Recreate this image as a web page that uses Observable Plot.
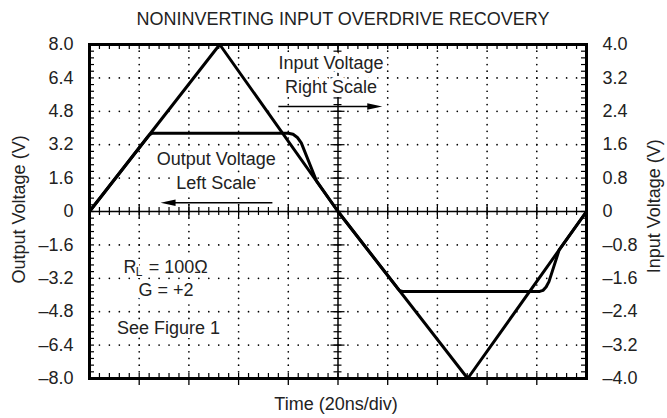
<!DOCTYPE html>
<html>
<head>
<meta charset="utf-8">
<script src="https://cdn.jsdelivr.net/npm/d3@7"></script>
<script src="https://cdn.jsdelivr.net/npm/@observablehq/plot@0.6"></script>
<style>
  body { margin: 0; background: #fff; }
  svg { display: block; }
</style>
</head>
<body>
<div id="chart"></div>
<script>
// ---- Data (time in divisions of 20 ns, voltages in volts) ----
const inputTime = [0, 2.62, 5.0, 7.61, 10];
const inputVolts = [0, 4.0, 0, -4.0, 0];          // right scale (input)

const outputTime = [0, 1.17, 1.22, 1.27, 4.0, 4.096, 4.183, 4.261, 4.57, 5.0, 6.19, 6.24, 6.30, 9.06, 9.125, 9.187, 9.245, 9.45, 10];
const outputVolts = [0, 3.57, 3.70, 3.75, 3.75, 3.70, 3.545, 3.29, 1.45, 0, -3.65, -3.79, -3.83, -3.83, -3.778, -3.62, -3.36, -1.84, 0]; // left scale

const leftTicks = [8, 6.4, 4.8, 3.2, 1.6, 0, -1.6, -3.2, -4.8, -6.4, -8];
const rightTicks = [4, 3.2, 2.4, 1.6, 0.8, 0, -0.8, -1.6, -2.4, -3.2, -4];
const timeDivs = [0, 1, 2, 3, 4, 5, 6, 7, 8, 9, 10];

const titleText = "NONINVERTING INPUT OVERDRIVE RECOVERY";
const xLabel = "Time (20ns/div)";
const yLeftLabel = "Output Voltage (V)";
const yRightLabel = "Input Voltage (V)";

const noteText = ["Input Voltage", "Right Scale", "Output Voltage", "Left Scale", "R", "= 100Ω", "G = +2", "See Figure 1"];
const noteX =    [4.86, 4.86, 2.55, 2.55, 0.684, 1.19, 1.54, 1.59];
const noteY =    [7.09, 5.94, 2.49, 1.34, -2.67, -2.67, -3.78, -5.6];
const noteAnchor = ["middle", "middle", "middle", "middle", "start", "start", "middle", "middle"];

const arrowFrom = [3.80, 3.68];
const arrowTo =   [5.89, 1.43];
const arrowLevel = [5.03, 0.42];

// ---- Layout ----
const W = 667, H = 418, mL = 89, mR = 81, mT = 44, mB = 40;
const pxX = 10 / (W - mL - mR), pxY = 16 / (H - mT - mB);
const FONT = "'Liberation Sans', Arial, Helvetica, sans-serif";
const FS = 18;

const input = inputTime.map((t, i) => ({t, v: inputVolts[i]}));
const output = outputTime.map((t, i) => ({t, v: outputVolts[i]}));
const notes = noteText.map((s, i) => ({s, x: noteX[i], y: noteY[i], a: noteAnchor[i]}));
const arrows = arrowFrom.map((x1, i) => ({x1, x2: arrowTo[i], y: arrowLevel[i], rot: arrowTo[i] > x1 ? 0 : 180}));

const minorX = d3.range(0, 51).map(i => i / 5);
const minorY = d3.range(-25, 26).map(i => i * 0.32);
const fmt = d => d === 0 ? "0" : (d < 0 ? "–" : "") + Math.abs(d).toFixed(1);

// dotted grid
const gridDots = [];
for (const x of timeDivs) {
  if (x === 0 || x === 10 || x === 5) continue;
  for (const y of minorY) if (Math.abs(y) < 7.9) gridDots.push({x, y});
}
for (const y of leftTicks) {
  if (Math.abs(y) > 7.9 || y === 0) continue;
  for (const x of minorX) if (x > 0.05 && x < 9.95) gridDots.push({x, y});
}

const arrowHead = {
  draw(ctx) {
    ctx.moveTo(0, 0);
    ctx.lineTo(-15, -3.2);
    ctx.lineTo(-15, 3.2);
    ctx.closePath();
  }
};

const textCommon = {fontFamily: FONT, fontSize: FS, fill: "#222"};
const halo = {stroke: "#fff", strokeWidth: 8, strokeLinejoin: "round", paintOrder: "stroke"};

const chart = Plot.plot({
  width: W, height: H,
  marginLeft: mL, marginRight: mR, marginTop: mT, marginBottom: mB,
  x: {domain: [0, 10], axis: null},
  y: {domain: [-8, 8], axis: null},
  style: {fontFamily: FONT, background: "#fff", color: "#000"},
  marks: [
    // dotted grid
    Plot.dot(gridDots, {x: "x", y: "y", r: 0.85, fill: "#000", stroke: null}),
    // center axes
    Plot.ruleX([5], {strokeWidth: 1.5}),
    Plot.ruleY([0], {strokeWidth: 1.5}),
    Plot.ruleY(minorY, {y: d => d, x1: 5 - 4 * pxX, x2: 5 + 4 * pxX, strokeWidth: 1.2}),
    Plot.ruleY(leftTicks, {y: d => d, x1: 5 - 7 * pxX, x2: 5 + 7 * pxX, strokeWidth: 1.2}),
    Plot.ruleX(minorX, {x: d => d, y1: -4 * pxY, y2: 4 * pxY, strokeWidth: 1.2}),
    Plot.ruleX(timeDivs, {x: d => d, y1: -7 * pxY, y2: 7 * pxY, strokeWidth: 1.2}),
    // border minor ticks (inward)
    Plot.ruleX(minorX, {x: d => d, y1: 8, y2: 8 - 5 * pxY, strokeWidth: 1.2}),
    Plot.ruleX(minorX, {x: d => d, y1: -8, y2: -8 + 5 * pxY, strokeWidth: 1.2}),
    Plot.ruleY(minorY, {y: d => d, x1: 0, x2: 5 * pxX, strokeWidth: 1.2}),
    Plot.ruleY(minorY, {y: d => d, x1: 10, x2: 10 - 5 * pxX, strokeWidth: 1.2}),
    // bottom major ticks (outward)
    Plot.ruleX(timeDivs.slice(1, -1), {x: d => d, y1: -8, y2: -8 - 7 * pxY, strokeWidth: 1.3}),
    // annotation text (white boxes hide the grid behind it)
    Plot.text(notes, {x: "x", y: "y", text: "s", textAnchor: "middle", filter: d => d.a === "middle", ...textCommon, ...halo}),
    Plot.text(notes, {x: "x", y: "y", text: "s", textAnchor: "start", filter: d => d.a === "start", ...textCommon, ...halo}),
    Plot.text(["L"], {x: 0.93, y: -2.67, dy: 5, text: d => d, textAnchor: "start", fontFamily: FONT, fontSize: 12, fill: "#222", ...halo, strokeWidth: 4}),
    // frame
    Plot.frame({stroke: "#000", strokeWidth: 3}),
    // waveforms
    Plot.line(input, {x: "t", y: d => d.v * 2, stroke: "#000", strokeWidth: 3, strokeLinejoin: "round"}),
    Plot.line(output, {x: "t", y: "v", stroke: "#000", strokeWidth: 3, strokeLinejoin: "round"}),
    // annotation arrows
    Plot.link(arrows, {x1: "x1", x2: d => d.x2 + (d.rot === 0 ? -10 * pxX : 10 * pxX), y1: "y", y2: "y", stroke: "#000", strokeWidth: 1.5}),
    Plot.dot(arrows, {x: "x2", y: "y", symbol: arrowHead, rotate: "rot", fill: "#000", stroke: null}),
    // tick labels
    Plot.text(leftTicks, {x: 0, y: d => d, text: fmt, dx: -16, textAnchor: "end", ...textCommon}),
    Plot.text(rightTicks, {x: 10, y: d => d * 2, text: fmt, dx: 16, textAnchor: "start", ...textCommon}),
    // axis labels & title
    Plot.text([xLabel], {x: 4.96, y: -9.25, text: d => d, ...textCommon}),
    Plot.text([yLeftLabel], {x: -1.41, y: 0.1, text: d => d, rotate: -90, ...textCommon}),
    Plot.text([yRightLabel], {x: 11.37, y: 0.25, text: d => d, rotate: -90, ...textCommon}),
    Plot.text([titleText], {x: 5.1, y: 9.2, text: d => d, ...textCommon})
  ]
});
document.getElementById("chart").appendChild(chart);
</script>
</body>
</html>
